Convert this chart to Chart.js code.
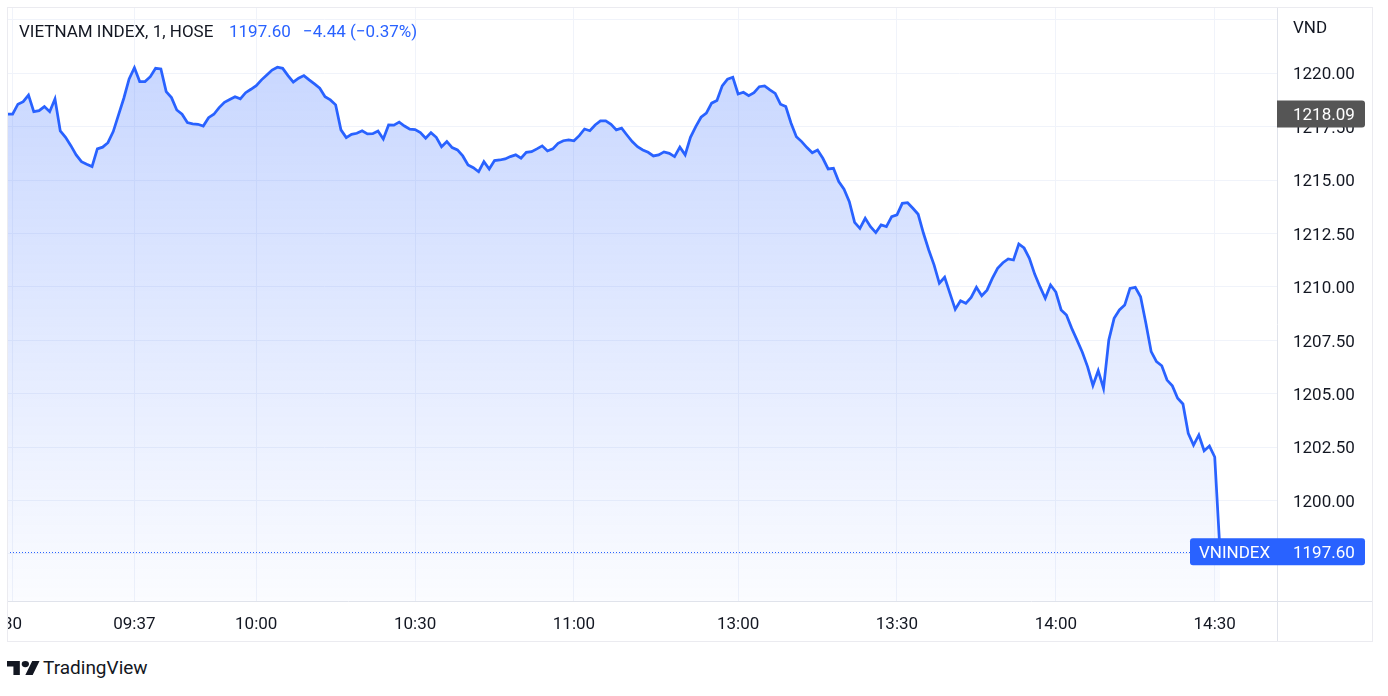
<!DOCTYPE html>
<html>
<head>
<meta charset="utf-8">
<script src="https://cdn.jsdelivr.net/npm/chart.js@4.4.1/dist/chart.umd.min.js"></script>
<style>
  body { margin: 0; width: 1388px; height: 696px; background: #fff; position: relative; overflow: hidden; font-family: Roboto, 'Noto Sans', sans-serif; color: #131722; }
  #frame { position: absolute; left: 7px; top: 7px; width: 1366px; height: 635px; }
  .hdr { position: absolute; top: 21px; font-size: 17px; line-height: 20px; white-space: nowrap; }
  .blue { color: #2962ff; }
  #brand { position: absolute; left: 7px; top: 657px; height: 22px; display: flex; align-items: center; font-size: 19px; line-height: 22px; color: #131722; }
  #brand svg { width: 33px; height: 14px; margin-right: 3px; }
</style>
</head>
<body>
<div id="frame"><canvas id="chart" width="1366" height="635"></canvas></div>
<div class="hdr" style="left:19px">VIETNAM INDEX, 1, HOSE</div>
<div class="hdr blue" style="left:229px">1197.60</div>
<div class="hdr blue" style="left:303px">−4.44 (−0.37%)</div>
<div id="brand">
  <svg viewBox="0 4 36 18" preserveAspectRatio="none"><path fill="#131722" d="M14 22H7V11H0V4h14v18zM28 22h-8l7.5-18h8L28 22z"/><circle fill="#131722" cx="20" cy="8" r="4"/></svg>
  <span>TradingView</span>
</div>
<script>
// 1-minute closes, one per bar
const prices = [
  1218.09, 1218.09, 1218.55, 1218.67, 1218.98, 1218.20, 1218.25, 1218.44, 1218.20, 1218.80,
  1217.30, 1217.00, 1216.61, 1216.18, 1215.86, 1215.74, 1215.63, 1216.46, 1216.54, 1216.75,
  1217.27, 1218.05, 1218.83, 1219.73, 1220.26, 1219.61, 1219.61, 1219.84, 1220.23, 1220.20,
  1219.14, 1218.86, 1218.28, 1218.08, 1217.69, 1217.63, 1217.61, 1217.53, 1217.92, 1218.08,
  1218.39, 1218.64, 1218.77, 1218.90, 1218.80, 1219.09, 1219.25, 1219.42, 1219.69, 1219.92,
  1220.15, 1220.28, 1220.23, 1219.89, 1219.58, 1219.77, 1219.89, 1219.69, 1219.50, 1219.30,
  1218.90, 1218.75, 1218.52, 1217.35, 1216.99, 1217.14, 1217.19, 1217.31, 1217.16, 1217.17,
  1217.30, 1216.92, 1217.58, 1217.57, 1217.71, 1217.53, 1217.38, 1217.36, 1217.22, 1216.96,
  1217.22, 1217.00, 1216.56, 1216.80, 1216.52, 1216.41, 1216.13, 1215.71, 1215.58, 1215.39,
  1215.86, 1215.52, 1215.91, 1215.94, 1215.99, 1216.10, 1216.18, 1216.02, 1216.30, 1216.33,
  1216.46, 1216.60, 1216.36, 1216.46, 1216.72, 1216.84, 1216.88, 1216.84, 1217.08, 1217.39,
  1217.31, 1217.58, 1217.77, 1217.77, 1217.61, 1217.35, 1217.43, 1217.11, 1216.80, 1216.56,
  1216.41, 1216.30, 1216.13, 1216.18, 1216.32, 1216.25, 1216.10, 1216.54, 1216.18, 1217.00,
  1217.50, 1217.94, 1218.13, 1218.60, 1218.72, 1219.41, 1219.72, 1219.81, 1219.03, 1219.11,
  1218.95, 1219.09, 1219.37, 1219.41, 1219.22, 1219.06, 1218.55, 1218.44, 1217.66, 1217.03,
  1216.80, 1216.52, 1216.28, 1216.41, 1216.02, 1215.52, 1215.55, 1214.93, 1214.57, 1213.99,
  1213.02, 1212.74, 1213.21, 1212.82, 1212.54, 1212.90, 1212.82, 1213.29, 1213.37, 1213.91,
  1213.94, 1213.68, 1213.40, 1212.51, 1211.73, 1211.03, 1210.17, 1210.45, 1209.70, 1208.95,
  1209.35, 1209.23, 1209.51, 1209.98, 1209.59, 1209.85, 1210.40, 1210.87, 1211.13, 1211.31,
  1211.26, 1212.01, 1211.82, 1211.34, 1210.60, 1210.01, 1209.47, 1210.09, 1209.76, 1208.92,
  1208.68, 1208.06, 1207.51, 1206.94, 1206.26, 1205.39, 1206.08, 1205.25, 1207.51, 1208.53,
  1208.92, 1209.15, 1209.93, 1209.98, 1209.54, 1208.30, 1206.97, 1206.50, 1206.31, 1205.64,
  1205.37, 1204.79, 1204.52, 1203.15, 1202.60, 1203.07, 1202.33, 1202.55, 1202.04, 1197.60
];

// time axis: bar index -> label
const timeTickBars = [1, 24, 47, 77, 107, 138, 168, 198, 228];
const timeTickLabels = ['30', '09:37', '10:00', '10:30', '11:00', '13:00', '13:30', '14:00', '14:30'];

// price axis
const priceGrid = [1197.5, 1200, 1202.5, 1205, 1207.5, 1210, 1212.5, 1215, 1217.5, 1220, 1222.5];
const priceLabels = [1200, 1202.5, 1205, 1207.5, 1210, 1212.5, 1215, 1217.5, 1220];

const lastPrice = 1197.60;
const markPrice = 1218.09;
const symbol = 'VNINDEX';
const currency = 'VND';

const FONT = 'Roboto, "Noto Sans", sans-serif';
const TEXT = '#131722';
const BLUE = '#2962ff';

const overlay = {
  id: 'overlay',
  afterDraw(chart) {
    const { ctx, chartArea: a, scales: { y } } = chart;
    const W = chart.width, H = chart.height;
    ctx.save();

    // last price dotted line
    const yl = Math.round(y.getPixelForValue(lastPrice)) + 0.5;
    ctx.strokeStyle = BLUE;
    ctx.lineWidth = 1;
    ctx.setLineDash([1, 2]);
    ctx.beginPath(); ctx.moveTo(a.left, yl); ctx.lineTo(a.right, yl); ctx.stroke();
    ctx.setLineDash([]);

    // pane separators and frame
    ctx.strokeStyle = '#e0e3eb';
    ctx.beginPath();
    ctx.moveTo(a.right + 0.5, 0); ctx.lineTo(a.right + 0.5, H);
    ctx.moveTo(0, a.bottom + 0.5); ctx.lineTo(W, a.bottom + 0.5);
    ctx.stroke();
    ctx.strokeStyle = '#ebebf0';
    ctx.strokeRect(0.5, 0.5, W - 1, H - 1);

    ctx.font = '17px ' + FONT;
    ctx.textBaseline = 'middle';
    ctx.textAlign = 'left';
    const lx = a.right + 16;

    // price scale labels
    ctx.fillStyle = TEXT;
    priceLabels.forEach(v => ctx.fillText(v.toFixed(2), lx, y.getPixelForValue(v) + 2));
    ctx.fillText(currency, lx, 22);

    // grey mark price badge
    const ym = y.getPixelForValue(markPrice);
    ctx.fillStyle = '#555555';
    ctx.beginPath(); ctx.roundRect(a.right, ym - 13.5, 88, 27, [0, 3, 3, 0]); ctx.fill();
    ctx.fillStyle = '#fff';
    ctx.fillText(markPrice.toFixed(2), lx, ym + 1.5);

    // symbol + last price label
    const yp = y.getPixelForValue(lastPrice);
    ctx.fillStyle = BLUE;
    ctx.beginPath(); ctx.roundRect(1183, yp - 13.5, a.right + 88 - 1183, 27, 3); ctx.fill();
    ctx.fillStyle = '#fff';
    ctx.fillText(symbol, 1192, yp + 1.5);
    ctx.fillText(lastPrice.toFixed(2), lx, yp + 1.5);

    ctx.restore();
  }
};

const ctx = document.getElementById('chart');
new Chart(ctx, {
  type: 'line',
  data: {
    datasets: [{
      data: prices.map((v, i) => ({ x: i, y: v })),
      borderColor: BLUE,
      borderWidth: 2.75,
      pointRadius: 0,
      tension: 0,
      fill: 'start',
      backgroundColor: (c) => {
        const area = c.chart.chartArea;
        if (!area) return 'rgba(41,98,255,0.15)';
        const g = c.chart.ctx.createLinearGradient(0, area.top, 0, area.bottom);
        g.addColorStop(0, 'rgba(41,98,255,0.28)');
        g.addColorStop(1, 'rgba(41,98,255,0.02)');
        return g;
      }
    }]
  },
  options: {
    responsive: false,
    animation: false,
    layout: { padding: 0 },
    plugins: { legend: { display: false }, tooltip: { enabled: false } },
    scales: {
      x: {
        type: 'linear',
        min: -0.06,
        max: 239.76,
        border: { display: false },
        grid: { color: '#f0f3fa', drawTicks: false },
        afterBuildTicks: (s) => { s.ticks = timeTickBars.map(v => ({ value: v })); },
        afterFit: (s) => { s.height = 41; s.paddingLeft = 0; s.paddingRight = 0; },
        ticks: {
          autoSkip: false, maxRotation: 0, padding: 14, color: TEXT,
          font: { family: FONT, size: 17 },
          callback: (v) => timeTickLabels[timeTickBars.indexOf(v)]
        }
      },
      y: {
        position: 'right',
        min: 1195.30,
        max: 1223.10,
        border: { display: false },
        grid: { color: '#f0f3fa', drawTicks: false },
        afterBuildTicks: (s) => { s.ticks = priceGrid.map(v => ({ value: v })); },
        afterFit: (s) => { s.width = 96; s.paddingTop = 0; s.paddingBottom = 0; },
        ticks: { display: false }
      }
    }
  },
  plugins: [overlay]
});
</script>
</body>
</html>
